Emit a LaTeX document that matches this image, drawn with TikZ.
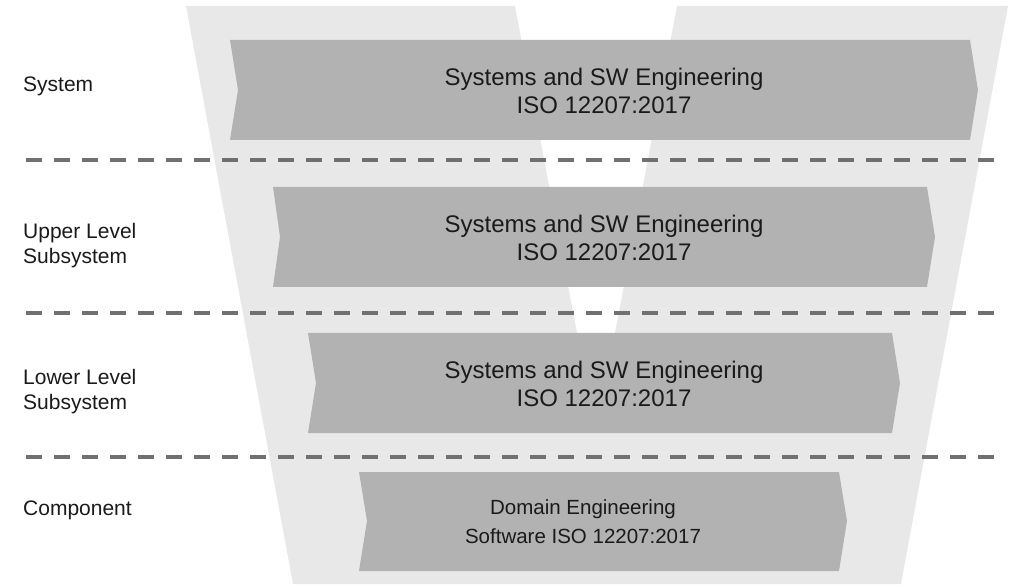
\documentclass[tikz,border=0pt]{standalone}
\usepackage{fontspec}
\setmainfont{Liberation Sans}
\definecolor{vgray}{HTML}{E8E8E8}
\definecolor{agray}{HTML}{B2B2B2}
\definecolor{dgray}{HTML}{707070}
\definecolor{tgray}{HTML}{1A1A1A}
\tikzset{
  chevron/.style={fill=agray, draw=none},
  levelsep/.style={draw=dgray, line width=4pt, dash pattern=on 16pt off 12pt},
  leveltext/.style={anchor=west, align=left, inner sep=0pt, text=tgray,
    font=\fontsize{21}{25}\selectfont},
  boxtext/.style={align=center, inner sep=0pt, text=tgray,
    font=\fontsize{24}{28}\selectfont},
  smallboxtext/.style={align=center, inner sep=0pt, text=tgray,
    font=\fontsize{20.5}{29}\selectfont}
}
\begin{document}
\begin{tikzpicture}[x=1pt,y=-1pt]
\useasboundingbox (0,0) rectangle (1010,585);
% V background
\fill[vgray] (186,6) -- (515,6) -- (596,433) -- (677,6) -- (1008,6) -- (901,584) -- (293,584) -- cycle;
% chevrons
\fill[chevron] (230,40) -- (970,40) -- (978,90) -- (970,140) -- (230,140) -- (238,90) -- cycle;
\fill[chevron] (273,187) -- (927,187) -- (935,237) -- (927,287) -- (273,287) -- (280,237) -- cycle;
\fill[chevron] (308,333) -- (892,333) -- (900,383) -- (892,433) -- (308,433) -- (316,383) -- cycle;
\fill[chevron] (359,472) -- (839,472) -- (847,521) -- (839,571) -- (359,571) -- (367,521) -- cycle;
% separators
\coordinate (s1a) at (26,160); \coordinate (s1b) at (994,160);
\coordinate (s2a) at (26,313); \coordinate (s2b) at (994,313);
\coordinate (s3a) at (26,457); \coordinate (s3b) at (994,457);
\draw[levelsep] (s1a) -- (s1b);
\draw[levelsep] (s2a) -- (s2b);
\draw[levelsep] (s3a) -- (s3b);
% level labels
\node[leveltext] (lsys) at (23,86) {System};
\node[leveltext] (lupper) at (23,246) {Upper Level\\Subsystem};
\node[leveltext] (llower) at (23,392) {Lower Level\\Subsystem};
\node[leveltext] (lcomp) at (23,510) {Component};
% box texts
\node[boxtext] (t1) at (604,91) {Systems and SW Engineering\\ISO 12207:2017};
\node[boxtext] (t2) at (604,238) {Systems and SW Engineering\\ISO 12207:2017};
\node[boxtext] (t3) at (604,384) {Systems and SW Engineering\\ISO 12207:2017};
\node[smallboxtext] (t4) at (583,522) {Domain Engineering\\Software ISO 12207:2017};
\end{tikzpicture}
\end{document}
